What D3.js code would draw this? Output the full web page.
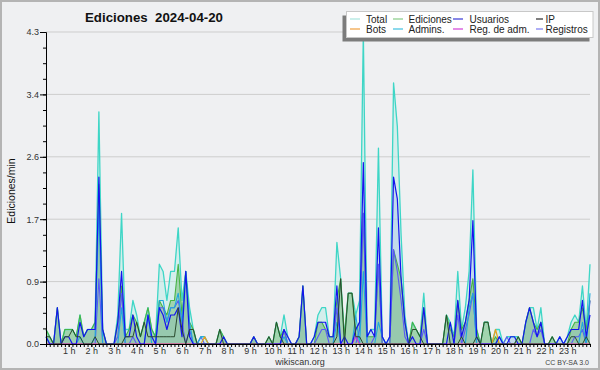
<!DOCTYPE html>
<html><head><meta charset="utf-8">
<script src="https://cdn.jsdelivr.net/npm/d3@7"></script>
<style>
body{margin:0;background:#fff}
svg{display:block}
text{font-family:"Liberation Sans",Arial,sans-serif}
</style>
</head><body>
<svg id="c" width="600" height="370"></svg>
<script>
// ---- data: edits per minute, 10-minute bins from 00:00 to 24:00 ----
const total = [.2,.1,0,.5,0,.2,.2,.2,.1,.4,.1,.2, .2,.3,3.2,.2,0,0,0,.4,1.8,.2,.2,.6, .4,.1,.3,.5,.2,.1,1.1,1.0,.6,1.0,1.0,1.6, .6,1.0,.5,.2,0,.1,.1,0,0,0,.2,.1, 0,0,0,0,0,0,0,.1,0,0,0,.1, 0,.3,.1,.4,.1,0,0,.1,.8,0,0,.1, .4,.5,.5,.1,.1,1.4,.9,.1,.7,.7,.4,.6, 4.3,.1,.2,.2,2.7,.1,0,.1,3.6,3.0,1.5,.4, 0,.3,.2,.1,.7,0,0,0,0,0,.4,.3, .1,1.0,.2,.5,1.0,2.4,.2,0,.3,.3,0,.2, .2,0,.1,.1,.1,.1,0,.3,.5,.5,.2,.5, 0,0,.1,0,.1,0,.1,.3,.4,.3,.8,.2, 1.1];
const ediciones = [.2,.1,0,.5,0,.2,.2,.2,.1,.4,.1,.2, .2,.3,2.2,.2,0,0,0,.3,.8,.1,.2,.4, .3,.1,.3,.5,.2,.1,.6,.5,.4,.6,.6,1.1, .4,1.0,.3,.2,0,0,0,0,0,0,.2,.1, 0,0,0,0,0,0,0,.1,0,0,0,.1, 0,.3,.1,.2,0,0,0,.1,.8,0,0,0, .3,.3,.2,.1,.1,.6,.9,.1,.7,.7,.2,.3, 1.8,.1,.1,.1,1.1,0,0,0,1.3,1.1,.9,.3, 0,.3,.2,.1,.5,0,0,0,0,0,.4,.2, .1,.6,.2,.3,.6,.9,.2,0,.3,.3,0,.1, 0,0,0,0,0,.1,0,.3,.5,.3,.2,.3, 0,0,.1,0,0,0,0,.2,.3,.3,.5,.2, .6];
const usuarios = [.1,0,0,.5,0,.1,.1,0,0,.3,.1,.2, .2,.2,2.3,.2,0,0,0,.3,1.0,.1,.1,.4, .1,0,0,.4,.1,0,.5,.4,.2,.4,.4,.5, .1,1.0,.1,0,0,0,0,0,0,0,0,.1, 0,0,0,0,0,0,0,.1,0,0,0,0, 0,0,0,.2,.1,0,0,.1,.8,0,0,.1, .3,.3,.3,.1,.1,.8,0,.1,0,0,.2,.3, 2.5,.1,.2,.1,1.6,.1,0,.1,2.3,2.0,.9,.3, 0,.1,0,0,.5,0,0,0,0,0,0,.3, 0,.6,.1,.3,.6,1.7,.1,0,0,0,0,0, .1,0,0,.1,.1,0,0,.3,.5,.3,.1,.3, 0,0,0,0,.1,0,.1,.2,.2,.2,.6,.1, .4];
const ip = [.1,.1,0,0,0,.1,.1,.2,.1,.1,0,0, 0,.1,0,0,0,0,0,0,0,.1,.1,.1, .3,.1,.3,.1,.1,.1,.1,.1,.1,.1,.1,.5, .2,0,.2,.2,0,0,0,0,0,0,.2,0, 0,0,0,0,0,0,0,0,0,0,0,.1, 0,.3,.1,0,0,0,0,0,0,0,0,0, 0,0,0,0,0,.1,.9,0,.7,.7,.1,.1, 0,0,0,0,0,0,0,0,0,0,0,0, 0,.2,.2,.1,0,0,0,0,0,0,.4,0, 0,0,.1,0,0,0,.1,0,.3,.3,0,0, 0,0,0,0,0,.1,0,0,0,0,0,0, 0,0,.1,0,0,0,0,.1,.1,0,0,.1, 0];
const bots = [0,0,0,0,0,0,0,0,0,0,0,0, 0,0,0,0,0,0,0,0,0,0,0,0, 0,0,0,0,0,0,0,0,0,0,0,0, 0,0,0,0,0,0,.1,0,0,0,0,0, 0,0,0,0,0,0,0,0,0,0,0,0, 0,0,0,0,0,0,0,0,0,0,0,0, 0,0,0,0,0,0,0,0,0,0,0,0, 0,0,0,0,0,0,0,0,0,0,0,0, 0,0,0,0,0,0,0,0,0,0,0,0, 0,0,0,0,0,0,0,0,0,0,0,.2, 0,0,0,0,0,0,0,0,0,0,0,0, 0,0,0,0,0,0,0,0,0,0,0,0, 0];
const admins = [.1,0,0,0,0,0,0,0,0,.1,0,0, 0,.1,1.9,0,0,0,0,0,.5,0,0,0, 0,0,0,.4,0,0,.6,.6,.3,.5,.5,.7, .3,1.0,.3,0,0,.1,.1,0,0,0,0,0, 0,0,0,0,0,0,0,0,0,0,0,0, 0,0,0,.1,0,0,0,0,0,0,0,0, 0,0,0,0,0,.3,0,0,0,0,.4,0, 1.0,0,0,0,.3,.1,0,0,0,0,0,0, 0,0,0,0,0,0,0,0,0,0,0,0, 0,0,0,0,.5,.7,0,0,0,0,0,0, .1,0,0,0,0,0,0,0,0,0,0,0, 0,0,0,0,0,0,0,0,0,0,.3,0, .7];
const regAdm = [0,0,0,0,0,0,0,0,0,0,0,0, 0,0,0,0,0,0,0,0,0,0,0,0, 0,0,0,0,0,0,0,0,0,0,0,0, 0,0,0,0,0,0,0,0,0,0,0,0, 0,0,0,0,0,0,0,0,0,0,0,0, 0,0,0,0,0,0,0,0,0,0,0,0, 0,0,0,0,0,0,0,0,0,0,.1,0, 0,0,0,0,0,0,0,0,0,0,0,0, 0,0,0,0,0,0,0,0,0,0,0,0, 0,0,0,0,0,0,0,0,0,0,0,0, 0,0,0,0,0,0,0,0,0,0,0,0, 0,0,0,0,0,0,0,0,0,0,0,0, 0];
const registros = [0,0,0,0,0,0,0,0,0,0,0,0, 0,0,.9,0,0,0,0,.1,.7,0,0,.1, 0,0,0,0,0,0,.5,.5,.3,.5,.5,.6, .3,0,.2,0,0,.1,0,0,0,0,0,0, 0,0,0,0,0,0,0,0,0,0,0,0, 0,0,0,.2,0,0,0,0,0,0,0,0, .1,.2,.2,0,0,.5,0,0,0,0,0,.2, 1.8,0,0,.1,1.1,0,0,0,1.3,1.0,.6,.1, 0,0,0,0,.2,0,0,0,0,0,0,0, 0,.4,0,.2,.4,.7,0,0,0,0,0,0, 0,0,.1,0,0,0,0,0,0,.2,.1,.2, 0,0,0,0,0,0,0,0,.1,.1,.2,0, .6];

const yMax = 4.3;
const yTickLabels = ["0.0","0.9","1.7","2.6","3.4","4.3"];
const hourLabels = ["1 h","2 h","3 h","4 h","5 h","6 h","7 h","8 h","9 h","10 h","11 h","12 h","13 h","14 h","15 h","16 h","17 h","18 h","19 h","20 h","21 h","22 h","23 h"];
const legendNames = ["Total","Ediciones","Usuarios","IP","Bots","Admins.","Reg. de adm.","Registros"];
const legendColors = ["#a8e4de","#88cc88","#3a3ad8","#2a2a2a","#f0a040","#40c0e0","#d040d8","#7878f0"];

// ---- drawing ----
const svg = d3.select("#c");
const N = total.length;
const x = d3.scaleLinear().domain([0, N - 1]).range([46, 590]);
const y = d3.scaleLinear().domain([0, yMax]).range([344, 32]);

svg.append("rect").attr("x",1).attr("y",1).attr("width",598).attr("height",368)
  .attr("fill","#eff0f2").attr("stroke","#b4b4b4").attr("stroke-width",2);

const majors = yTickLabels.map((d,i)=> yMax * i / (yTickLabels.length - 1));
const minors = d3.range(0, 21).map(k => yMax * k / 20);

// grid
svg.append("g").selectAll("line").data(majors.slice(1)).join("line")
  .attr("x1",46).attr("x2",590).attr("y1",d=>y(d)).attr("y2",d=>y(d))
  .attr("stroke","#cdcdcd").attr("stroke-width",1);

const line = arr => d3.line().x((d,i)=>x(i)).y(d=>y(d))(arr);
const area = arr => d3.area().x((d,i)=>x(i)).y0(y(0)).y1(d=>y(d))(arr);

const plot = svg.append("g");
plot.append("path").attr("d", area(total)).attr("fill","rgba(185,236,230,0.5)");
plot.append("path").attr("d", area(usuarios)).attr("fill","rgba(110,135,235,0.18)");
plot.append("path").attr("d", area(ediciones)).attr("fill","rgba(100,180,100,0.45)");

const series = [
  [total, "#3ed6c6", 1.3],
  [ediciones, "#46b446", 1.1],
  [registros, "#5a5af5", 1.1],
  [admins, "#1fa8dc", 1.1],
  [bots, "#e8a020", 1.2],
  [regAdm, "#cc33cc", 1.1],
  [usuarios, "#1414ee", 1.2],
  [ip, "#2a4a2e", 1.0]
];
series.forEach(([arr,col,w]) => {
  plot.append("path").attr("d", line(arr)).attr("fill","none")
    .attr("stroke", col).attr("stroke-width", w).attr("stroke-linejoin","round");
});

// axes
svg.append("g").attr("transform","translate(46,0)")
  .call(d3.axisLeft(y).tickValues(majors).tickFormat((d,i)=>yTickLabels[i]).tickSize(6).tickSizeOuter(0).tickPadding(1));
svg.append("g").attr("transform","translate(46,0)")
  .call(d3.axisLeft(y).tickValues(minors).tickFormat("").tickSize(3).tickSizeOuter(0));
svg.append("g").attr("transform","translate(0,344)")
  .call(d3.axisBottom(x).tickValues(d3.range(0, N)).tickFormat("").tickSize(3).tickSizeOuter(0));
svg.append("g").attr("transform","translate(0,344)")
  .call(d3.axisBottom(x).tickValues(hourLabels.map((d,i)=>(i+1)*6)).tickFormat((d,i)=>hourLabels[i]).tickSize(3).tickSizeOuter(0).tickPadding(1));
svg.selectAll(".domain").attr("stroke","#000");
svg.selectAll(".tick line").attr("stroke","#000");
svg.selectAll(".tick text").attr("font-family","Liberation Sans, Arial, sans-serif").attr("font-size",9).attr("fill","#333");

// legend
const lg = svg.append("g");
lg.append("rect").attr("x",342.5).attr("y",15.5).attr("width",247).attr("height",26).attr("fill","#7c7c7c");
lg.append("rect").attr("x",346.5).attr("y",11.5).attr("width",246.5).attr("height",26).attr("fill","#fff").attr("stroke","#c8c8c8");
const colX = [350, 393, 453, 536];
const txtX = [366, 408.5, 469.5, 545.5];
legendNames.forEach((n,i) => {
  const c = i % 4, r = Math.floor(i / 4);
  const ly = 19 + r * 10;
  lg.append("line").attr("x1",colX[c]).attr("x2",colX[c] + (c===3?7:10)).attr("y1",ly).attr("y2",ly)
    .attr("stroke",legendColors[i]).attr("stroke-width",1.2);
  lg.append("text").attr("x",txtX[c]).attr("y",ly + 3.6).attr("font-size",10).attr("fill","#222").text(n);
});

// texts
svg.append("text").attr("x",154).attr("y",21.7).attr("text-anchor","middle")
  .attr("font-family","DejaVu Sans, sans-serif").attr("font-weight","bold").attr("font-size",13.5)
  .attr("textLength",138).attr("lengthAdjust","spacingAndGlyphs").attr("fill","#111")
  .text("Ediciones\u00a0\u00a02024-04-20");
svg.append("text").attr("transform","translate(14.5,191) rotate(-90)").attr("text-anchor","middle")
  .attr("font-family","DejaVu Sans, sans-serif").attr("font-size",10.5).attr("fill","#111").text("Ediciones/min");
svg.append("text").attr("x",300).attr("y",364.5).attr("text-anchor","middle").attr("font-size",9).attr("fill","#333").text("wikiscan.org");
svg.append("text").attr("x",589).attr("y",365).attr("text-anchor","end").attr("font-size",7).attr("fill","#444").text("CC BY-SA 3.0");
</script>
</body></html>
